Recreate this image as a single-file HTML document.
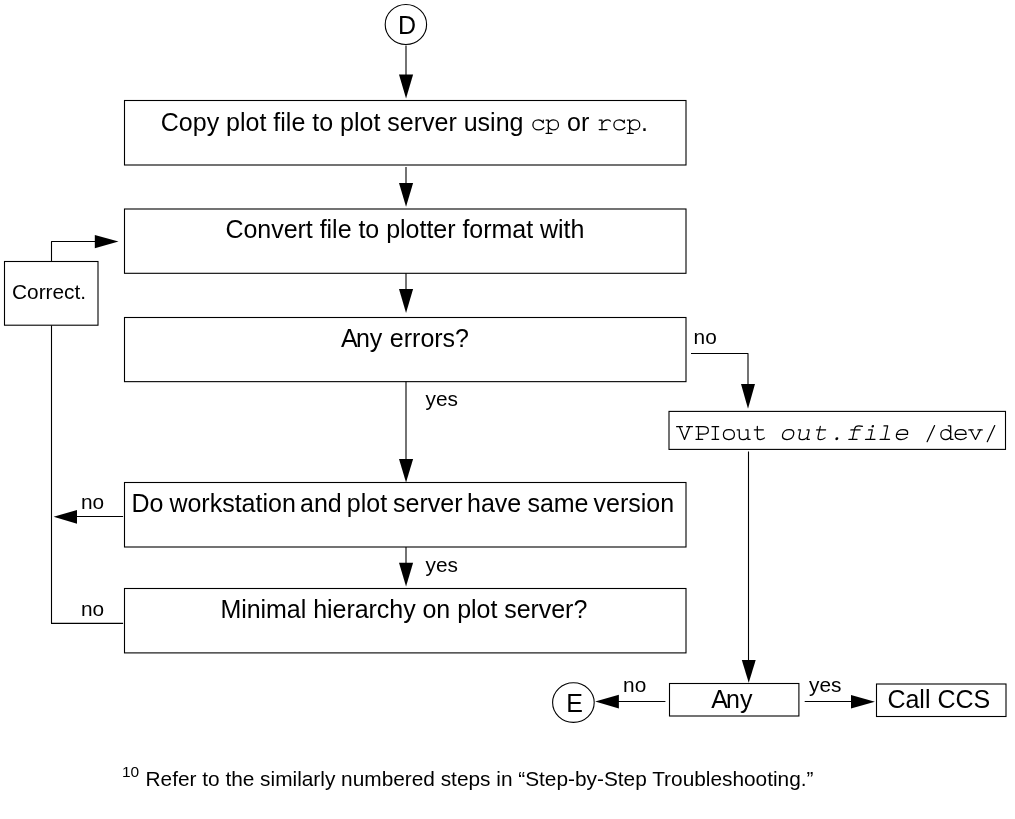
<!DOCTYPE html>
<html>
<head>
<meta charset="utf-8">
<title>Plot troubleshooting flowchart</title>
<style>
html,body{margin:0;padding:0;background:#fff;}
body{width:1015px;height:819px;overflow:hidden;}
svg{display:block;position:absolute;left:0;top:0;will-change:transform;}
.ln{fill:none;stroke:#000;stroke-width:1.1;stroke-linejoin:round;}
.bx{fill:#fff;stroke:#000;stroke-width:1.1;}
.ah{fill:#000;stroke:none;}
text{font-family:"Liberation Sans",sans-serif;fill:#000;}
.t25{font-size:25px;}
.t20{font-size:20.83px;}
.t14{font-size:15.5px;}
.inv{fill:none;stroke:none;}
.mono{font-family:"Liberation Mono",monospace;font-size:20.8px;stroke:#fff;stroke-width:0.35px;}
</style>
</head>
<body>
<svg width="1015" height="819" viewBox="0 0 1015 819">
<rect x="0" y="0" width="1015" height="819" fill="#fff"/>

<!-- connector D -->
<ellipse class="bx" cx="405.9" cy="24.45" rx="20.7" ry="20.0"/>
<text class="t25" x="397.9" y="34.3">D</text>
<path class="ln" d="M406 45.6 V76"/>
<path class="ah" d="M399 74.5 H413.1 L406.05 98.4 Z"/>

<!-- box 1 -->
<rect class="bx" x="124.5" y="100.5" width="561.5" height="64.5"/>
<text class="t25" x="160.8" y="130.7">Copy plot file to plot server using</text>
<text class="t25" x="567" y="130.7">or</text>
<text class="t25 inv" x="530" y="130.2" style="font-family:'Liberation Mono',monospace">cp</text>
<text class="t25 inv" x="596" y="130.2" style="font-family:'Liberation Mono',monospace">rcp</text>
<!--MONO:cp--><g fill="none" stroke="#000" stroke-width="50" stroke-linecap="round" stroke-linejoin="round"><g transform="translate(530.75,130.20) scale(0.02500,0.02500)"><path d="M 500 -399 V -290 C 455 -370 385 -411 305 -411 C 180 -411 85 -330 85 -212 C 85 -95 180 -13 315 -13 C 410 -13 480 -45 525 -105"/></g><g transform="translate(545.10,130.20) scale(0.02500,0.02500)"><path d="M 40 -399 H 130 V 128"/><path d="M 40 128 H 270"/><path d="M 130 -275 C 170 -360 240 -411 330 -411 C 445 -411 535 -330 535 -212 C 535 -95 445 -13 330 -13 C 240 -13 170 -65 130 -150"/></g></g><!--/MONO-->
<!--MONO:rcp--><g fill="none" stroke="#000" stroke-width="50" stroke-linecap="round" stroke-linejoin="round"><g transform="translate(596.95,130.20) scale(0.02500,0.02500)"><path d="M 90 -399 H 200 V -25"/><path d="M 90 -25 H 400"/><path d="M 200 -270 C 260 -365 340 -411 420 -411 C 470 -411 510 -395 540 -365"/></g><g transform="translate(611.75,130.20) scale(0.02500,0.02500)"><path d="M 500 -399 V -290 C 455 -370 385 -411 305 -411 C 180 -411 85 -330 85 -212 C 85 -95 180 -13 315 -13 C 410 -13 480 -45 525 -105"/></g><g transform="translate(626.40,130.20) scale(0.02500,0.02500)"><path d="M 40 -399 H 130 V 128"/><path d="M 40 128 H 270"/><path d="M 130 -275 C 170 -360 240 -411 330 -411 C 445 -411 535 -330 535 -212 C 535 -95 445 -13 330 -13 C 240 -13 170 -65 130 -150"/></g></g><!--/MONO-->
<text class="t25" x="641" y="130.7">.</text>
<path class="ln" d="M406 166.9 V185"/>
<path class="ah" d="M399 183.05 H413.1 L406.05 206.7 Z"/>

<!-- box 2 -->
<rect class="bx" x="124.5" y="209" width="561.5" height="64.3"/>
<text class="t25" x="225.4" y="238.3" letter-spacing="-0.025">Convert file to plotter format with</text>
<path class="ln" d="M406 273.3 V291"/>
<path class="ah" d="M399 289 H413.1 L406.05 313 Z"/>

<!-- box 3 -->
<rect class="bx" x="124.5" y="317.5" width="561.5" height="64.15"/>
<text class="t25" x="341" y="347.3">A<tspan dx="-1.8">ny</tspan><tspan dx="0.6"> errors?</tspan></text>
<text class="t20" x="425.5" y="406">yes</text>
<path class="ln" d="M406 381.6 V461"/>
<path class="ah" d="M399 459 H413.1 L406.05 482.4 Z"/>

<!-- box 4 -->
<rect class="bx" x="124.5" y="482.5" width="561.5" height="64.5"/>
<text class="t25" y="511.8"><tspan x="131.4">Do</tspan><tspan x="169.4">workstation</tspan><tspan x="300">and</tspan><tspan x="346.8">plot</tspan><tspan x="393">server</tspan><tspan x="467">have</tspan><tspan x="527.4">same</tspan><tspan x="593.5">version</tspan></text>
<text class="t20" x="425.5" y="572">yes</text>
<path class="ln" d="M406 547 V565"/>
<path class="ah" d="M399 562.85 H413.1 L406.05 586.4 Z"/>

<!-- box 5 -->
<rect class="bx" x="124.5" y="588.5" width="561.5" height="64.4"/>
<text class="t25" x="220.4" y="618.4" letter-spacing="-0.04">Minimal hierarchy on plot server?</text>

<!-- left side loop -->
<text class="t20" x="81" y="508.7">no</text>
<path class="ln" d="M123.1 516.5 H75"/>
<path class="ah" d="M77 509.9 V523.7 L53.6 516.8 Z"/>
<text class="t20" x="81" y="615.5">no</text>
<path class="ln" d="M123.1 623.4 H51.5 V325.2"/>
<rect class="bx" x="4.5" y="261.5" width="93.5" height="63.7"/>
<text class="t20" x="12" y="298.8">Correct.</text>
<path class="ln" d="M51.5 261.5 V241.5 H96"/>
<path class="ah" d="M94.8 235 V248.3 L118.5 241.6 Z"/>

<!-- right side -->
<text class="t20" x="693.6" y="343.8">no</text>
<path class="ln" d="M691 353.5 H748 V386"/>
<path class="ah" d="M741 384 H755 L748 408.7 Z"/>
<rect class="bx" x="669" y="411.4" width="336.5" height="38"/>
<text class="t25 inv" x="675.5" y="439.9" style="font-family:'Liberation Mono',monospace" xml:space="preserve">VPIout <tspan font-style="italic">out.file</tspan> /dev/</text>
<!--MONO:VPIout--><g fill="none" stroke="#000" stroke-width="50" stroke-linecap="round" stroke-linejoin="round"><g transform="translate(677.05,439.90) scale(0.02500,0.02500)"><path d="M -18 -528 H 212"/><path d="M 388 -528 H 618"/><path d="M 98 -528 L 300 -20 L 502 -528"/></g><g transform="translate(694.35,439.90) scale(0.02500,0.02500)"><path d="M 165 -528 V -25"/><path d="M 65 -528 H 355 C 485 -528 560 -465 560 -380 C 560 -295 485 -230 355 -230 H 165"/><path d="M 65 -25 H 335"/></g><g transform="translate(707.85,439.90) scale(0.02500,0.02500)"><path d="M 300 -528 V -25"/><path d="M 168 -528 H 432"/><path d="M 168 -25 H 432"/></g><g transform="translate(721.40,439.90) scale(0.02500,0.02500)"><path d="M 300 -411 C 432 -411 520 -330 520 -212 C 520 -95 432 -13 300 -13 C 168 -13 80 -95 80 -212 C 80 -330 168 -411 300 -411 Z"/></g><g transform="translate(736.15,439.90) scale(0.02500,0.02500)"><path d="M 40 -399 H 125 V -150 C 125 -60 185 -13 280 -13 C 370 -13 430 -55 470 -110"/><path d="M 385 -399 H 470 V -25 H 560"/></g><g transform="translate(751.95,439.90) scale(0.02500,0.02500)"><path d="M 215 -540 V -130 C 215 -50 262 -13 335 -13 C 405 -13 455 -38 500 -80"/><path d="M 95 -399 H 455"/></g></g><!--/MONO-->
<!--MONO:outfile--><g fill="none" stroke="#000" stroke-width="50" stroke-linecap="round" stroke-linejoin="round"><g transform="translate(779.50,439.90) scale(0.02500,0.02500) skewX(-12)"><path d="M 300 -411 C 432 -411 520 -330 520 -212 C 520 -95 432 -13 300 -13 C 168 -13 80 -95 80 -212 C 80 -330 168 -411 300 -411 Z"/></g><g transform="translate(795.25,439.90) scale(0.02500,0.02500) skewX(-12)"><path d="M 40 -399 H 125 V -150 C 125 -60 185 -13 280 -13 C 370 -13 430 -55 470 -110"/><path d="M 385 -399 H 470 V -25 H 560"/></g><g transform="translate(812.05,439.90) scale(0.02500,0.02500) skewX(-12)"><path d="M 215 -540 V -130 C 215 -50 262 -13 335 -13 C 405 -13 455 -38 500 -80"/><path d="M 95 -399 H 455"/></g><g transform="translate(829.05,439.90) scale(0.02500,0.02500) skewX(-12)"><circle cx="300" cy="-48" r="58" fill="#000" stroke="none"/></g><g transform="translate(845.95,439.90) scale(0.02500,0.02500) skewX(-12)"><path d="M 255 -25 V -450 C 255 -535 315 -562 395 -562 C 455 -562 505 -552 545 -540"/><path d="M 110 -399 H 480"/><path d="M 110 -25 H 440"/></g><g transform="translate(862.65,439.90) scale(0.02500,0.02500) skewX(-12)"><path d="M 150 -399 H 300 V -25"/><path d="M 110 -25 H 490"/><circle cx="290" cy="-545" r="50" fill="#000" stroke="none"/></g><g transform="translate(877.20,439.90) scale(0.02500,0.02500) skewX(-12)"><path d="M 150 -562 H 300 V -25"/><path d="M 110 -25 H 490"/></g><g transform="translate(893.35,439.90) scale(0.02500,0.02500) skewX(-12)"><path d="M 80 -220 H 520 C 520 -335 432 -411 300 -411 C 168 -411 80 -330 80 -212 C 80 -95 172 -13 310 -13 C 405 -13 475 -45 522 -100"/></g></g><!--/MONO-->
<!--MONO:dev--><g fill="none" stroke="#000" stroke-width="50" stroke-linecap="round" stroke-linejoin="round"><g transform="translate(923.35,439.90) scale(0.02500,0.02500)"><path d="M 150 70 L 450 -572"/></g><g transform="translate(939.05,439.90) scale(0.02500,0.02500)"><path d="M 465 -290 C 425 -365 355 -411 275 -411 C 160 -411 70 -330 70 -212 C 70 -95 160 -13 275 -13 C 355 -13 425 -60 465 -135"/><path d="M 370 -562 H 465 V -25 H 560"/></g><g transform="translate(953.10,439.90) scale(0.02500,0.02500)"><path d="M 80 -220 H 520 C 520 -335 432 -411 300 -411 C 168 -411 80 -330 80 -212 C 80 -95 172 -13 310 -13 C 405 -13 475 -45 522 -100"/></g><g transform="translate(968.00,439.90) scale(0.02500,0.02500)"><path d="M 30 -399 H 205"/><path d="M 395 -399 H 570"/><path d="M 110 -399 L 300 -18 L 490 -399"/></g><g transform="translate(983.50,439.90) scale(0.02500,0.02500)"><path d="M 150 70 L 450 -572"/></g></g><!--/MONO-->
<path class="ln" d="M748.5 451.5 V662"/>
<path class="ah" d="M741.8 660 H755.7 L748.75 682.8 Z"/>

<!-- bottom row -->
<rect class="bx" x="669.5" y="683.5" width="129.4" height="32.5"/>
<text class="t25" x="711.2" y="707.9">A<tspan dx="-1.8">ny</tspan></text>
<text class="t20" x="623.1" y="692">no</text>
<path class="ln" d="M665.4 701.5 H617"/>
<path class="ah" d="M618.9 694.7 V708.4 L595.2 701.5 Z"/>
<ellipse class="bx" cx="573.4" cy="702.6" rx="20.8" ry="19.8"/>
<text class="t25" x="566.2" y="712.3">E</text>
<text class="t20" x="809" y="692.3">yes</text>
<path class="ln" d="M804.7 701.5 H853"/>
<path class="ah" d="M851 695 V708.6 L874.9 701.8 Z"/>
<rect class="bx" x="876.5" y="684" width="129.5" height="32.5"/>
<text class="t25" x="887.4" y="708.3">Call CCS</text>

<!-- footnote -->
<text class="t14" x="122" y="777.3">10</text>
<text class="t20" x="145.5" y="786">Refer to the similarly numbered steps in “Step-by-Step Troubleshooting.”</text>
</svg>
</body>
</html>
